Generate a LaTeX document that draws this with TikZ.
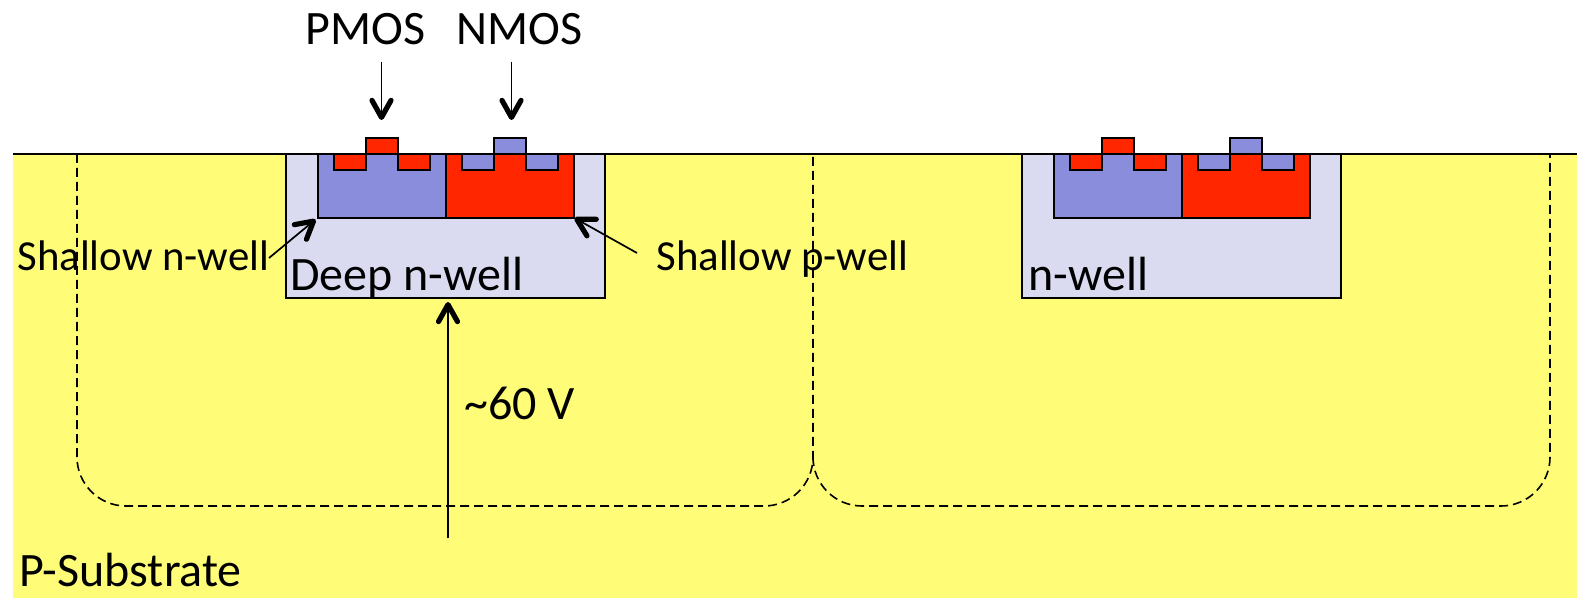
\documentclass[tikz,border=0pt]{standalone}
\usepackage{fontspec}
\setmainfont{Carlito}
\usetikzlibrary{positioning,arrows.meta}

\definecolor{substrate}{RGB}{255,252,120}
\definecolor{deepwell}{RGB}{218,218,241}
\definecolor{pwellcol}{RGB}{255,38,0}
\definecolor{nwellcol}{RGB}{138,140,220}

\tikzset{
    region/.style={draw=black,line width=1pt},
    label/.style={inner sep=0pt,anchor=base west,font=\fontsize{24}{24}\selectfont},
    smalllabel/.style={inner sep=0pt,anchor=base west,font=\fontsize{21.4}{21.4}\selectfont},
    thinarrow/.style={line width=0.85pt,-{Straight Barb[length=8.5pt,width=9.5pt,line width=2.6pt,round]}},
    border/.style={line width=0.8pt,dash pattern=on 4.5pt off 2.5pt}
}

% Paire de transistors, origine au coin haut gauche du caisson
\newcommand{\transistors}[1]{
    \begin{scope}[shift={(#1,154)}]
        \filldraw[region,fill=nwellcol] (0,0) rectangle (128,64);
        \filldraw[region,fill=pwellcol] (128,0) rectangle (256,64);
        \filldraw[region,fill=pwellcol] (16,0) rectangle (48,16);
        \filldraw[region,fill=pwellcol] (80,0) rectangle (112,16);
        \filldraw[region,fill=pwellcol] (48,0) rectangle (80,-16);
        \filldraw[region,fill=nwellcol] (144,0) rectangle (176,16);
        \filldraw[region,fill=nwellcol] (208,0) rectangle (240,16);
        \filldraw[region,fill=nwellcol] (176,0) rectangle (208,-16);
    \end{scope}
}

\begin{document}
\begin{tikzpicture}[x=0.5pt,y=-0.5pt]
    \useasboundingbox (0,0) rectangle (1577,598);

    % Substrat
    \fill[substrate] (13,154) rectangle (1577,598);

    % Caissons profonds
    \filldraw[region,fill=deepwell] (285.5,154) rectangle (605,298);
    \filldraw[region,fill=deepwell] (1021.5,154) rectangle (1341,298);
    \transistors{317.5}
    \transistors{1053.5}

    % Surface
    \draw[line width=1pt] (13,154) -- (1577,154);

    % Zones de depletion
    \draw[border] (77,154) -- (77,457) arc[start angle=180,end angle=90,x radius=49,y radius=49] -- (764,506) arc[start angle=90,end angle=0,x radius=49,y radius=49] -- (813,154);
    \draw[border] (813,457) arc[start angle=180,end angle=90,x radius=49,y radius=49] -- (1501,506) arc[start angle=90,end angle=0,x radius=49,y radius=49] -- (1550,154);

    % Textes
    \node[label] (pmos) at (305,44.5) {PMOS};
    \node[label] (nmos) at (456,44.5) {NMOS};
    \node[smalllabel] (shallown) at (17,271) {Shallow n-well};
    \node[smalllabel] (shallowp) at (656,271) {Shallow p-well};
    \node[label] (deepn) at (290,291) {Deep n-well};
    \node[label] (nwell) at (1028,291) {n-well};
    \node[label] (volt) at (464,419) {\textasciitilde60 V};
    \node[label] (psub) at (19,586) {P-Substrate};

    % Fleches
    \coordinate (pmostip) at (381.5,120);
    \coordinate (pmostail) at (381.5,62);
    \coordinate (nmostip) at (511.5,120);
    \coordinate (nmostail) at (511.5,62);
    \coordinate (ntip) at (315.5,219.5);
    \coordinate (ntail) at (269,258);
    \coordinate (ptip) at (574.5,218);
    \coordinate (ptail) at (637,253);
    \coordinate (vtip) at (448,302);
    \coordinate (vtail) at (448,538);
    \draw[thinarrow] (pmostail) -- (pmostip);
    \draw[thinarrow] (nmostail) -- (nmostip);
    \draw[thinarrow] (ntail) -- (ntip);
    \draw[thinarrow] (ptail) -- (ptip);
    \draw[thinarrow] (vtail) -- (vtip);
\end{tikzpicture}
\end{document}
